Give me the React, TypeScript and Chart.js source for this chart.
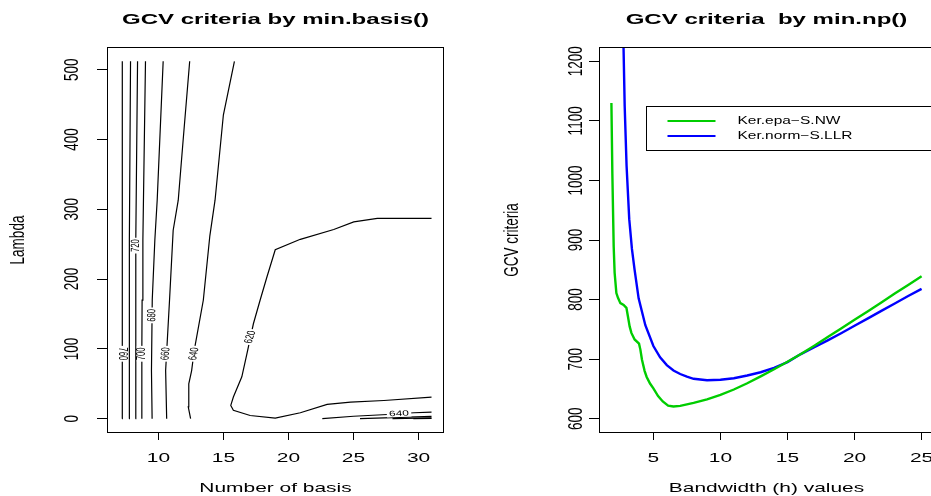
import React, { useEffect, useRef } from "react";
import { Chart, registerables } from "chart.js";

Chart.register(...registerables);

// ---------------- Left panel: GCV contour by min.basis() ----------------
const basisRange = [7, 31];
const lambdaRange = [0, 512];
const basisTicks = [10, 15, 20, 25, 30];
const lambdaTicks = [0, 100, 200, 300, 400, 500];

const contourLevels = [760, 740, 720, 700, 680, 660, 640, 620, 640, 660, 680, 700];
const contourBasis: number[][] = [
  [7.2, 7.2, 7.22, 7.23],
  [7.74, 7.75, 7.77, 7.85],
  [8.23, 8.24, 8.27, 8.39],
  [8.72, 8.72, 8.74, 8.8, 9.0],
  [9.51, 9.46, 9.52, 9.72, 9.9, 10.36],
  [10.63, 10.55, 10.85, 11.13, 11.52, 11.9, 12.4],
  [12.47, 12.29, 12.33, 12.55, 12.75, 13.45, 13.95, 14.35, 14.99, 15.84],
  [31, 26.83, 25.02, 23.48, 20.91, 18.98, 18.34, 17.82, 17.3, 16.8, 16.41, 15.76, 15.56, 15.76, 17.05, 18.98, 20.91, 22.97, 24.77, 27.34, 31],
  [22.6, 25.0, 27.6, 29.65, 31],
  [25.5, 28.0, 31],
  [28.0, 31],
  [29.6, 31],
];
const contourLambda: number[][] = [
  [0, 100, 300, 512],
  [0, 120, 256, 512],
  [0, 120, 256, 512],
  [0, 100, 170, 256, 512],
  [0, 69, 170, 256, 313, 512],
  [0, 69, 170, 270, 313, 400, 512],
  [0, 17, 50, 69, 98, 170, 262, 313, 435, 512],
  [287, 287, 282, 271, 257, 242, 203, 170, 136, 93, 60, 31, 19, 12, 4.6, 0.8, 8.5, 20.4, 23.7, 26.1, 31],
  [0, 3.5, 6, 8.5, 9.5],
  [0, 1.6, 3.2],
  [0, 1.2],
  [0, 0.5],
];
// contour labels: which line, where (basis, lambda)
const labelLine = [0, 2, 3, 4, 5, 6, 7, 8];
const labelBasis = [7.2, 8.25, 8.72, 9.5, 10.56, 12.73, 17.06, 28.5];
const labelLambda = [93, 248, 93, 148, 93, 93, 117, 7];
const labelFlip = [true, false, false, false, false, false, false, false];

// ---------------- Right panel: GCV criteria by min.np() ----------------
const seriesNames = ["Ker.epa\u2212S.NW", "Ker.norm\u2212S.LLR"];
const epaH = [1.87, 1.94, 2.04, 2.11, 2.24, 2.36, 2.54, 2.78, 2.99, 3.1, 3.23, 3.36, 3.6, 3.93, 4.03, 4.15, 4.35, 4.5, 4.75, 5.0, 5.35, 5.7, 6.1, 6.5, 7.0, 8.0, 9.0, 10, 11, 12, 13, 14, 15, 16, 17, 18, 19, 20, 21, 22, 23, 24, 25];
const epaGCV = [1130, 1012, 889, 845, 811, 803, 794, 791, 786, 772, 755, 744, 733, 726, 716, 699, 680, 670, 659, 651, 638, 629, 622, 620.5, 621.5, 626.5, 632.5, 640, 649, 659.5, 671, 683, 695.5, 708.5, 722.5, 737, 751.5, 766, 780.5, 795, 810, 824.5, 839];
const normH = [2.76, 2.86, 3.0, 3.2, 3.4, 3.6, 3.9, 4.4, 5.0, 5.5, 6.0, 6.5, 7.0, 7.5, 8.0, 9.0, 10, 11, 12, 13, 14, 15, 16, 17, 18, 19, 20, 21, 22, 23, 24, 25];
const normGCV = [1240, 1125, 1025, 935, 885, 850, 802, 757, 722, 703, 690, 681, 675, 670.5, 667, 664.5, 665.5, 668, 672.5, 678, 685.5, 695, 708.5, 720, 731.5, 743.5, 756, 768.5, 781, 793.5, 806, 818];
const bandwidthTicks = [5, 10, 15, 20, 25];
const gcvTicks = [600, 700, 800, 900, 1000, 1100, 1200];
const gcvLimits = [600, 1200];

// ---------------- styling ----------------
const FONT = "'Liberation Sans', Arial, sans-serif";
const TEXT_STRETCH = 1.55;
const AXIS_FONT = 13.5;
const GREEN = "#00cd00";
const BLUE = "#0000ff";

function rRange(r: number[]) {
  const d = r[1] - r[0];
  return [r[0] - 0.04 * d, r[1] + 0.04 * d];
}

function stretchText(ctx: any) {
  if (ctx.__stretched) return;
  ctx.__stretched = true;
  const orig = ctx.fillText.bind(ctx);
  ctx.fillText = function (text: string, x: number, y: number, maxWidth?: number) {
    const m = ctx.getTransform();
    const p = m.transformPoint(new DOMPoint(x, y));
    ctx.save();
    ctx.setTransform(new DOMMatrix().translate(p.x, p.y).scale(TEXT_STRETCH, 1).translate(-p.x, -p.y).multiply(m));
    if (maxWidth === undefined || maxWidth === null) orig(text, x, y);
    else orig(text, x, y, maxWidth);
    ctx.restore();
  };
}

const boxPlugin = {
  id: "rBox",
  afterDraw(chart: any) {
    const { ctx, chartArea: a } = chart;
    ctx.save();
    ctx.strokeStyle = "#000";
    ctx.lineWidth = 1;
    ctx.strokeRect(a.left + 0.5, a.top + 0.5, a.right - a.left - 1, a.bottom - a.top - 1);
    ctx.restore();
  },
};

const titlePlugin = {
  id: "panelTitle",
  afterDraw(chart: any, _args: any, opts: any) {
    const { ctx, chartArea: a } = chart;
    ctx.save();
    ctx.font = `bold 15.5px ${FONT}`;
    ctx.fillStyle = "#000";
    ctx.textAlign = "center";
    ctx.textBaseline = "alphabetic";
    ctx.fillText(opts.text, (a.left + a.right) / 2, 24);
    ctx.restore();
  },
};

const contourLabelPlugin = {
  id: "contourLabels",
  afterDatasetsDraw(chart: any) {
    const { ctx } = chart;
    const xs = chart.scales.x;
    const ys = chart.scales.y;
    ctx.save();
    ctx.font = `7.7px ${FONT}`;
    ctx.textAlign = "center";
    ctx.textBaseline = "middle";
    labelLine.forEach((li, i) => {
      const bx = contourBasis[li];
      const by = contourLambda[li];
      const px = xs.getPixelForValue(labelBasis[i]);
      const py = ys.getPixelForValue(labelLambda[i]);
      let best = Infinity;
      let ang = 0;
      for (let k = 0; k < bx.length - 1; k++) {
        const x1 = xs.getPixelForValue(bx[k]);
        const y1 = ys.getPixelForValue(by[k]);
        const x2 = xs.getPixelForValue(bx[k + 1]);
        const y2 = ys.getPixelForValue(by[k + 1]);
        const dx = x2 - x1;
        const dy = y2 - y1;
        const len2 = dx * dx + dy * dy || 1;
        let t = ((px - x1) * dx + (py - y1) * dy) / len2;
        t = Math.max(0, Math.min(1, t));
        const d = Math.hypot(x1 + t * dx - px, y1 + t * dy - py);
        if (d < best) {
          best = d;
          ang = Math.atan2(dy, dx);
        }
      }
      if (ang >= Math.PI / 2) ang -= Math.PI;
      if (ang < -Math.PI / 2) ang += Math.PI;
      if (labelFlip[i]) ang += Math.PI;
      const text = String(contourLevels[li]);
      const w = ctx.measureText(text).width + 3;
      const h = 6.5;
      ctx.save();
      ctx.translate(px, py);
      ctx.scale(TEXT_STRETCH, 1);
      ctx.rotate(ang);
      ctx.fillStyle = "#fff";
      ctx.fillRect(-w / 2, -h / 2, w, h);
      ctx.restore();
      ctx.save();
      ctx.translate(px, py);
      ctx.rotate(ang);
      ctx.fillStyle = "#000";
      ctx.fillText(text, 0, 0);
      ctx.restore();
    });
    ctx.restore();
  },
};

const legendPlugin = {
  id: "boxLegend",
  afterDraw(chart: any) {
    const { ctx, chartArea: a } = chart;
    const left = a.left + 47;
    const top = a.top + 59;
    const right = a.right;
    const bottom = a.top + 103;
    ctx.save();
    ctx.strokeStyle = "#000";
    ctx.lineWidth = 1;
    ctx.strokeRect(left + 0.5, top + 0.5, right - left, bottom - top);
    chart.data.datasets.forEach((ds: any, i: number) => {
      const y = top + 15 + i * 15;
      ctx.strokeStyle = ds.borderColor;
      ctx.lineWidth = 2;
      ctx.beginPath();
      ctx.moveTo(left + 21.5, y);
      ctx.lineTo(left + 69.5, y);
      ctx.stroke();
      ctx.fillStyle = "#000";
      ctx.font = `10px ${FONT}`;
      ctx.textAlign = "left";
      ctx.textBaseline = "middle";
      ctx.fillText(ds.label, left + 91.5, y);
    });
    ctx.restore();
  },
};

function axisCommon(tickValues: number[], tickLength: number) {
  return {
    type: "linear" as const,
    afterBuildTicks: (s: any) => {
      s.ticks = tickValues.map((v) => ({ value: v }));
    },
    grid: {
      drawOnChartArea: false,
      drawTicks: true,
      tickLength,
      color: "#000",
      tickColor: "#000",
      lineWidth: 1,
    },
    border: { display: false },
  };
}

const plainTick = (v: any) => String(v);

function leftConfig(): any {
  const xr = rRange(basisRange);
  const yr = rRange(lambdaRange);
  const datasets = contourBasis.map((bs, i) => ({
    label: String(contourLevels[i]),
    data: bs.map((b, k) => ({ x: b, y: contourLambda[i][k] })),
    showLine: true,
    borderColor: "#000",
    borderWidth: 1.2,
    pointRadius: 0,
    tension: 0,
    fill: false,
  }));
  return {
    type: "scatter",
    data: { datasets },
    plugins: [boxPlugin, titlePlugin, contourLabelPlugin],
    options: {
      responsive: false,
      animation: false,
      devicePixelRatio: 1,
      events: [],
      layout: { padding: { left: 0, right: 22, top: 47, bottom: 0 } },
      plugins: {
        legend: { display: false },
        tooltip: { enabled: false },
        panelTitle: { text: "GCV criteria by min.basis()" },
      },
      scales: {
        x: {
          ...axisCommon(basisTicks, 7),
          min: xr[0],
          max: xr[1],
          afterFit: (s: any) => {
            s.height = 63;
          },
          ticks: { color: "#000", font: { family: FONT, size: AXIS_FONT }, padding: 10, maxRotation: 0, autoSkip: false, callback: plainTick },
          title: { display: true, text: "Number of basis", color: "#000", font: { family: FONT, size: AXIS_FONT }, padding: { top: 0, bottom: 0 } },
        },
        y: {
          ...axisCommon(lambdaTicks, 10),
          min: yr[0],
          max: yr[1],
          afterFit: (s: any) => {
            s.width = 107;
          },
          ticks: { color: "#000", font: { family: FONT, size: AXIS_FONT }, padding: 13.7, minRotation: 90, maxRotation: 90, crossAlign: "center", autoSkip: false, callback: plainTick },
          title: { display: true, text: "Lambda", color: "#000", font: { family: FONT, size: AXIS_FONT }, padding: { top: 10, bottom: 0 } },
        },
      },
    },
  };
}

function rightConfig(): any {
  const xr = rRange([Math.min(...epaH, ...normH), Math.max(...epaH, ...normH)]);
  const yr = rRange(gcvLimits);
  return {
    type: "scatter",
    data: {
      datasets: [
        {
          label: seriesNames[0],
          data: epaH.map((h, i) => ({ x: h, y: epaGCV[i] })),
          showLine: true,
          borderColor: GREEN,
          borderWidth: 2.4,
          pointRadius: 0,
          tension: 0,
        },
        {
          label: seriesNames[1],
          data: normH.map((h, i) => ({ x: h, y: normGCV[i] })),
          showLine: true,
          borderColor: BLUE,
          borderWidth: 2.4,
          pointRadius: 0,
          tension: 0,
        },
      ],
    },
    plugins: [boxPlugin, titlePlugin, legendPlugin],
    options: {
      responsive: false,
      animation: false,
      devicePixelRatio: 1,
      events: [],
      layout: { padding: { left: 0, right: 132, top: 47, bottom: 0 } },
      plugins: {
        legend: { display: false },
        tooltip: { enabled: false },
        panelTitle: { text: "GCV criteria  by min.np()" },
      },
      scales: {
        x: {
          ...axisCommon(bandwidthTicks, 7),
          min: xr[0],
          max: xr[1],
          afterFit: (s: any) => {
            s.height = 63;
          },
          ticks: { color: "#000", font: { family: FONT, size: AXIS_FONT }, padding: 10, maxRotation: 0, autoSkip: false, callback: plainTick },
          title: { display: true, text: "Bandwidth (h) values", color: "#000", font: { family: FONT, size: AXIS_FONT }, padding: { top: 0, bottom: 0 } },
        },
        y: {
          ...axisCommon(gcvTicks, 10),
          min: yr[0],
          max: yr[1],
          afterFit: (s: any) => {
            s.width = 133;
          },
          ticks: { color: "#000", font: { family: FONT, size: AXIS_FONT }, padding: -2, minRotation: 90, maxRotation: 90, crossAlign: "center", autoSkip: false, callback: plainTick },
          title: { display: true, text: "GCV criteria", color: "#000", font: { family: FONT, size: AXIS_FONT }, padding: { top: 38, bottom: 0 } },
        },
      },
    },
  };
}

export default function App() {
  const leftRef = useRef<HTMLCanvasElement>(null);
  const rightRef = useRef<HTMLCanvasElement>(null);

  useEffect(() => {
    const charts: Chart[] = [];
    if (leftRef.current) {
      stretchText(leftRef.current.getContext("2d"));
      charts.push(new Chart(leftRef.current, leftConfig()));
    }
    if (rightRef.current) {
      stretchText(rightRef.current.getContext("2d"));
      charts.push(new Chart(rightRef.current, rightConfig()));
    }
    return () => charts.forEach((c) => c.destroy());
  }, []);

  return (
    <div style={{ position: "fixed", left: 0, top: 0, width: 931, height: 496, overflow: "hidden", background: "#fff" }}>
      <canvas ref={leftRef} width={466} height={496} style={{ position: "absolute", left: 0, top: 0, width: 466, height: 496 }} />
      <canvas ref={rightRef} width={600} height={496} style={{ position: "absolute", left: 466, top: 0, width: 600, height: 496 }} />
    </div>
  );
}
